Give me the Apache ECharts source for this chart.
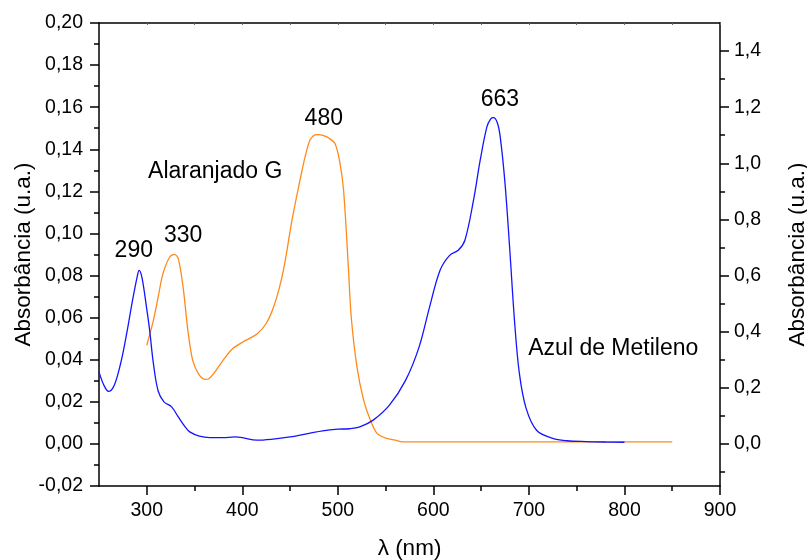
<!DOCTYPE html>
<html><head><meta charset="utf-8">
<script src="https://cdn.jsdelivr.net/npm/echarts@6/dist/echarts.min.js"></script>
<style>html,body{margin:0;padding:0;background:#fff}#c{width:807px;height:560px}</style>
</head><body><div id="c"></div>
<script>
// ---- data ----
const blueWavelength = [250,255,260,265,270,275,280,285,290,292,295,300,303,307,312,318,326,333,340,345,355,366,380,392,400,415,430,450,470,484,500,512,523,537,554,571,585,596,607,617,626,633,642,649,656,660,663,667,670,675,680,685,690,697,708,725,740,760,780,800];
const blueAbs = [0.0342,0.028,0.025,0.027,0.0335,0.043,0.055,0.068,0.0795,0.0825,0.079,0.064,0.054,0.038,0.025,0.020,0.0176,0.0128,0.0082,0.0057,0.0037,0.003,0.003,0.0033,0.003,0.0018,0.0022,0.0033,0.005,0.0062,0.007,0.0072,0.0081,0.0113,0.0184,0.0303,0.046,0.065,0.0825,0.0896,0.092,0.0968,0.1158,0.1348,0.1506,0.1545,0.155,0.1525,0.1458,0.1237,0.092,0.058,0.0335,0.017,0.0065,0.0026,0.0015,0.0011,0.0009,0.0008];
const orangeWavelength = [300,307,312,317,324,329,333,338,343,348,354,361,365,370,380,390,404,415,425,434,443,452,460,466,471,476,480,485,490,497,502,506,511,514,520,527,534,541,551,560,568,600,700,800,850];
const orangeAbs = [0.0469,0.0588,0.07,0.081,0.0888,0.0901,0.088,0.0746,0.054,0.0398,0.0334,0.0307,0.031,0.0334,0.0398,0.0453,0.0493,0.0521,0.0572,0.0667,0.0825,0.1063,0.1245,0.137,0.1445,0.1468,0.147,0.1465,0.1455,0.1427,0.1340,0.1205,0.084,0.0603,0.0366,0.0208,0.0113,0.005,0.0026,0.0018,0.001,0.001,0.001,0.001,0.001];

const xTickValues = [300,400,500,600,700,800,900];
const xMinorTickValues = [350,450,550,650,750,850];
const xTopTickValues = [300,350,400,450,500,550,600,650,700,750,800,850,900];
const rightTickValues = [0,0.2,0.4,0.6,0.8,1.0,1.2,1.4];
const rightMinorTickValues = [-0.1,0.1,0.3,0.5,0.7,0.9,1.1,1.3];

const annotationText = ['290','330','480','663','Alaranjado G','Azul de Metileno'];
const annotationX = [286.4,338.0,485.3,669.6,301.4,699.3];
const annotationY = [0.0917,0.0988,0.1546,0.1638,0.1295,0.0452];
const annotationAlign = ['center','center','center','center','left','left'];

// ---- chart ----
const FONT = "'Liberation Sans', Arial, sans-serif";
const AX = '#000';
const chart = echarts.init(document.getElementById('c'), null, {renderer:'canvas'});
const pairs = (xs, ys) => xs.map((x,i)=>[x, ys[i]]);
const fmt = d => v => { if (Math.abs(v) < 1e-9) v = 0; return v.toFixed(d).replace('.', ','); };

const hiddenAxisBase = {axisLine:{show:false, onZero:false}, axisLabel:{show:false}, splitLine:{show:false}};

chart.setOption({
  animation:false,
  backgroundColor:'#fff',
  grid:{left:99, top:23, width:621, height:463, containLabel:false, outerBoundsMode:'none'},
  xAxis:[
    {type:'value', position:'bottom', min:250, max:900,
     name:'λ (nm)', nameLocation:'middle', nameGap:51,
     nameTextStyle:{fontSize:22.5, fontFamily:FONT, color:'#000'},
     axisLine:{show:true, onZero:false, lineStyle:{color:AX, width:1.5}},
     axisTick:{show:true, inside:false, length:9, customValues:xTickValues, lineStyle:{color:AX, width:1.5}},
     axisLabel:{show:true, customValues:xTickValues, margin:15, fontSize:19.5, fontFamily:FONT, color:'#000'},
     splitLine:{show:false}},
    Object.assign({type:'value', position:'bottom', min:250, max:900,
     axisTick:{show:true, inside:false, length:5, customValues:xMinorTickValues, lineStyle:{color:AX, width:1.5}}}, hiddenAxisBase),
    {type:'value', position:'top', min:250, max:900,
     axisLine:{show:true, onZero:false, lineStyle:{color:AX, width:1.5}},
     axisTick:{show:true, inside:true, length:2, customValues:xTopTickValues, lineStyle:{color:'#666', width:1}},
     axisLabel:{show:false}, splitLine:{show:false}}
  ],
  yAxis:[
    {type:'value', position:'left', min:-0.02, max:0.20, interval:0.02,
     name:'Absorbância (u.a.)', nameLocation:'middle', nameGap:64, nameRotate:90, nameMoveOverlap:false,
     nameTextStyle:{fontSize:22.5, fontFamily:FONT, color:'#000'},
     axisLine:{show:true, onZero:false, lineStyle:{color:AX, width:1.5}},
     axisTick:{show:true, inside:false, length:9, lineStyle:{color:AX, width:1.5}},
     minorTick:{show:true, splitNumber:2, length:5, lineStyle:{color:AX, width:1.5}},
     axisLabel:{show:true, margin:16, formatter:fmt(2), fontSize:19.5, fontFamily:FONT, color:'#000'},
     splitLine:{show:false}, minorSplitLine:{show:false}},
    {type:'value', position:'right', min:-0.15, max:1.5,
     name:'Absorbância (u.a.)', nameLocation:'middle', nameGap:66, nameRotate:90,
     nameTextStyle:{fontSize:22.5, fontFamily:FONT, color:'#000'},
     axisLine:{show:true, onZero:false, lineStyle:{color:AX, width:1.5}},
     axisTick:{show:true, inside:false, length:9, customValues:rightTickValues, lineStyle:{color:AX, width:1.5}},
     axisLabel:{show:true, customValues:rightTickValues, margin:14, formatter:fmt(1), fontSize:19.5, fontFamily:FONT, color:'#000'},
     splitLine:{show:false}},
    Object.assign({type:'value', position:'right', min:-0.15, max:1.5,
     axisTick:{show:true, inside:false, length:5, customValues:rightMinorTickValues, lineStyle:{color:AX, width:1.5}}}, hiddenAxisBase)
  ],
  series:[
    {name:'Azul de Metileno', type:'line', xAxisIndex:0, yAxisIndex:0, data:pairs(blueWavelength, blueAbs),
     showSymbol:false, smooth:0.35, lineStyle:{color:'#1414ff', width:1.3}, itemStyle:{color:'#1414ff'}, z:3},
    {name:'Alaranjado G', type:'line', xAxisIndex:0, yAxisIndex:0, data:pairs(orangeWavelength, orangeAbs),
     showSymbol:false, smooth:0.3, lineStyle:{color:'#ff8a1a', width:1.3}, itemStyle:{color:'#ff8a1a'}, z:2}
  ]
});

// annotations placed at data coordinates through the grid's scales
const texts = annotationText.map((t,i)=>{
  const p = chart.convertToPixel({xAxisIndex:0, yAxisIndex:0}, [annotationX[i], annotationY[i]]);
  return {type:'text', x:p[0], y:p[1], z:10, silent:true,
    style:{text:t, fill:'#000', font:'23px ' + FONT, align:annotationAlign[i], verticalAlign:'middle'}};
});
chart.setOption({graphic:{elements:texts}});
</script></body></html>
